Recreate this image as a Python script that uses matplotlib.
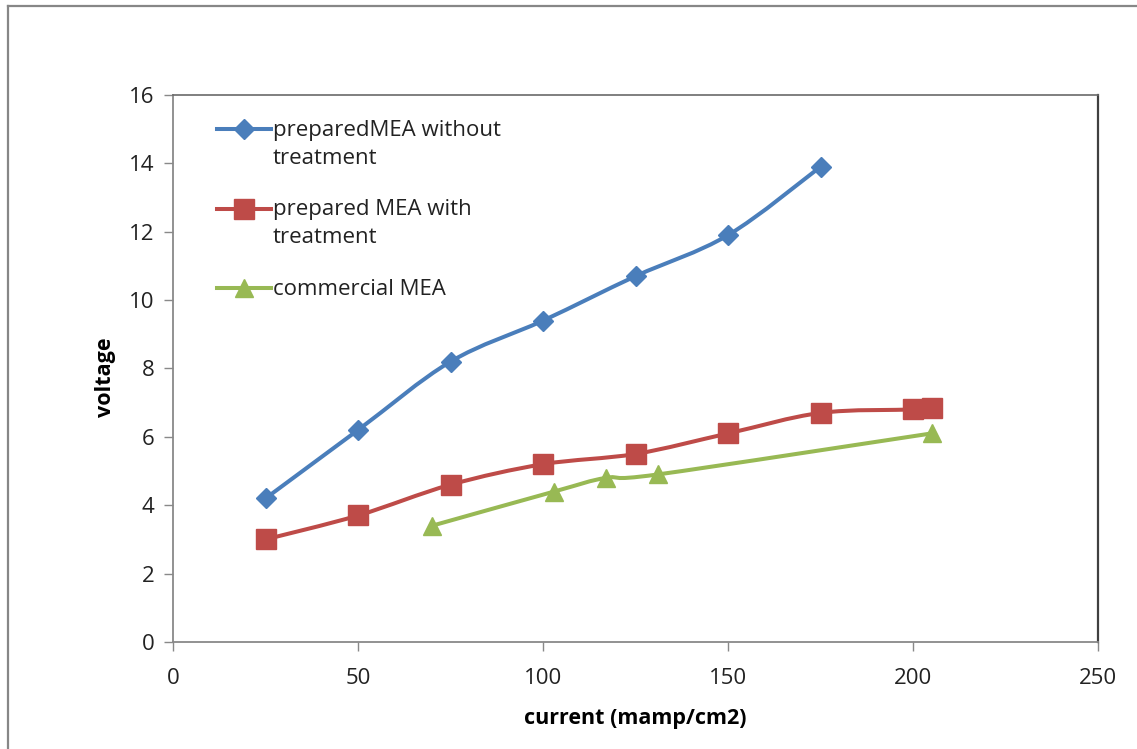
import matplotlib.pyplot as plt
import numpy as np
from matplotlib.lines import Line2D
from matplotlib.offsetbox import HPacker
from matplotlib.patches import PathPatch
from matplotlib.path import Path

# current density (mamp/cm2) and measured voltage for each MEA
x_untreated = [25, 50, 75, 100, 125, 150, 175]
v_untreated = [4.2, 6.2, 8.2, 9.4, 10.7, 11.9, 13.9]

x_treated = [25, 50, 75, 100, 125, 150, 175, 200, 205]
v_treated = [3.0, 3.7, 4.6, 5.2, 5.5, 6.1, 6.7, 6.8, 6.85]

x_commercial = [70, 103, 117, 131, 205]
v_commercial = [3.4, 4.4, 4.8, 4.9, 6.1]

labels = ["preparedMEA without\ntreatment",
          "prepared MEA with\ntreatment",
          "commercial MEA"]
colors = ["#4A7EBB", "#BE4B48", "#98B954"]
markers = ["D", "s", "^"]
msizes = [10, 14, 13]

plt.rcParams["font.family"] = ["Open Sans", "DejaVu Sans"]


def smooth_path(xs, ys):
    # cubic bezier through every point, excel-style "smoothed line"
    p = np.column_stack([xs, ys]).astype(float)
    n = len(p)
    verts = [p[0]]
    codes = [Path.MOVETO]
    for i in range(n - 1):
        prev = p[i - 1] if i > 0 else p[i]
        nxt = p[i + 2] if i + 2 < n else p[i + 1]
        c1 = p[i] + (p[i + 1] - prev) / 6.0
        c2 = p[i + 1] - (nxt - p[i]) / 6.0
        verts += [c1, c2, p[i + 1]]
        codes += [Path.CURVE4] * 3
    return Path(verts, codes)


fig = plt.figure(figsize=(11.37, 7.49), dpi=100)
ax = fig.add_axes([0.1522, 0.1429, 0.8135, 0.7303])

# chart area border (top and left edges fall inside the image)
bx = 7.5 / 1137
by = 1 - 5.5 / 749
fig.add_artist(Line2D([bx, 1.0], [by, by], transform=fig.transFigure,
                      color="#878787", linewidth=1.6))
fig.add_artist(Line2D([bx, bx], [0.0, by], transform=fig.transFigure,
                      color="#878787", linewidth=1.6))

series = [(x_untreated, v_untreated), (x_treated, v_treated),
          (x_commercial, v_commercial)]
handles = []
for (xs, ys), lab, c, m, ms in zip(series, labels, colors, markers, msizes):
    ax.add_patch(PathPatch(smooth_path(xs, ys), facecolor="none",
                           edgecolor=c, linewidth=2.9, capstyle="round",
                           zorder=2))
    ax.plot(xs, ys, linestyle="none", marker=m, markersize=ms,
            color=c, zorder=3)
    h, = ax.plot([], [], color=c, linewidth=2.9, marker=m, markersize=ms)
    handles.append(h)

ax.set_xlim(0, 250)
ax.set_ylim(0, 16)
ax.set_xticks(np.arange(0, 251, 50))
ax.set_yticks(np.arange(0, 17, 2))
ax.tick_params(direction="out", length=6.5, width=1, color="#898989",
               labelsize=16, labelcolor="#222222")
ax.tick_params(axis="y", pad=7)
ax.tick_params(axis="x", pad=12)

for side in ["left", "bottom"]:
    ax.spines[side].set_color("#898989")
    ax.spines[side].set_linewidth(1.3)
ax.spines["top"].set_color("#6a6a6a")
ax.spines["top"].set_linewidth(1.2)
ax.spines["right"].set_color("#404040")
ax.spines["right"].set_linewidth(1.6)

ax.set_xlabel("current (mamp/cm2)", fontsize=15.5, fontweight="bold",
              labelpad=14)
ax.set_ylabel("voltage", fontsize=15.5, fontweight="bold")
ax.yaxis.set_label_coords(-0.062, 0.484)

leg = ax.legend(handles, labels, loc="upper left",
                bbox_to_anchor=(0.036, 0.975), frameon=False, fontsize=16,
                handlelength=2.4, handletextpad=0.08, labelspacing=1.36,
                handleheight=1.2, borderpad=0, numpoints=1)
for t in leg.get_texts():
    t.set_linespacing(1.45)
    t.set_color("#222222")
# keep each key level with the first line of its label
for hp in leg.findobj(HPacker):
    hp.align = "top"

fig.savefig("out.png", dpi=100)
